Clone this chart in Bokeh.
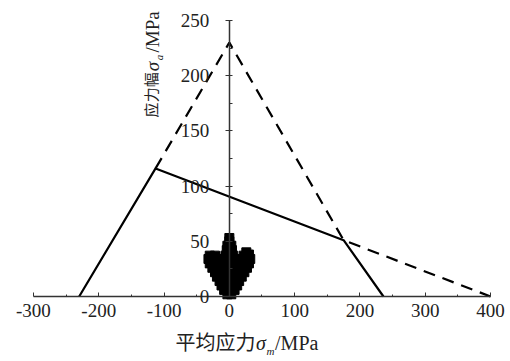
from bokeh.plotting import figure
from bokeh.models import Range1d, Label, FixedTicker
from bokeh.embed import file_html
from bokeh.resources import INLINE

# Goodman-type limit lines
solid_x = [-230, -113, 175, 236]
solid_y = [0, 116, 51, 0]
dash_x = [-113, 0, 175, 400]
dash_y = [116, 230, 51, 0]

# test points clustered near zero mean stress
pts_x = [-3, 3,
         -8, 0, 8,
         -12, -4, 4, 12,
         -15, -7, 0, 7, 15,
         -19, -10, -2, 5, 13, 19,
         -22, -14, -6, 2, 10, 18, 23,
         -26, -18, -10, -2, 6, 14, 22, 27,
         -30, -21, -12, -4, 4, 12, 21, 30,
         -32, -24, -14, -5, 5, 15, 25, 32,
         -30, -22, -6, 0, 6, 22, 30,
         -4, 4, 26,
         -3, 3,
         0, 0]
pts_y = [2, 2,
         6, 6, 6,
         10, 10, 10, 10,
         14, 14, 14, 14, 14,
         18, 18, 18, 18, 18, 18,
         22, 22, 22, 22, 22, 22, 22,
         26, 26, 26, 26, 26, 26, 26, 26,
         30, 30, 30, 30, 30, 30, 30, 30,
         34, 34, 34, 34, 34, 34, 34, 34,
         37, 37, 37, 37, 37, 37, 38,
         42, 42, 40,
         46, 46,
         50, 53]

x_ticks = [-300, -200, -100, 0, 100, 200, 300, 400]
x_tick_labels = ["-300", "-200", "-100", "0", "100", "200", "300", "400"]
y_ticks = [0, 50, 100, 150, 200, 250]

SERIF = "Liberation Serif"
CJK = "Liberation Serif, Noto Sans CJK SC"
TXT = "#222222"

p = figure(width=510, height=357, output_backend="svg", toolbar_location=None,
           x_range=Range1d(-350.5, 430.6), y_range=Range1d(-55.25, 268.1),
           min_border_left=0, min_border_right=0, min_border_top=0, min_border_bottom=0)
p.grid.visible = False
p.outline_line_color = None
p.background_fill_color = "white"

ax = p.xaxis[0]
ax.fixed_location = 0
ax.bounds = (-300, 400)
ax.ticker = FixedTicker(ticks=x_ticks, minor_ticks=[-250, -150, -50, 50, 150, 250, 350])
ax.major_label_overrides = dict(zip(x_ticks, x_tick_labels))
ax.axis_line_color = "#333333"
ax.axis_line_width = 1.5
ax.major_tick_in = 4
ax.major_tick_out = 0
ax.minor_tick_in = 2
ax.minor_tick_out = 0
ax.major_tick_line_color = "#333333"
ax.minor_tick_line_color = "#333333"
ax.major_label_text_font = SERIF
ax.major_label_text_font_size = "19px"
ax.major_label_text_color = TXT
ax.major_label_standoff = 7

ay = p.yaxis[0]
ay.fixed_location = 0
ay.bounds = (0, 250)
ay.ticker = FixedTicker(ticks=y_ticks, minor_ticks=[25, 75, 125, 175, 225])
ay.axis_line_color = "#333333"
ay.axis_line_width = 1.5
ay.major_tick_in = 3
ay.major_tick_out = 4
ay.minor_tick_in = 3
ay.minor_tick_out = 0
ay.major_tick_line_color = "#333333"
ay.minor_tick_line_color = "#333333"
ay.major_label_text_font = SERIF
ay.major_label_text_font_size = "19px"
ay.major_label_text_color = TXT
ay.major_label_standoff = 16

p.line(solid_x, solid_y, line_color="black", line_width=2.2)
p.line(dash_x, dash_y, line_color="black", line_width=2.2, line_dash="12 8")
p.scatter(pts_x, pts_y, marker="square", size=9, color="black")

# x title
p.add_layout(Label(x=40, y=-42.5, text="平均应力", text_align="right", text_baseline="middle",
                   text_font=CJK, text_font_size="20px", text_color=TXT))
p.add_layout(Label(x=41, y=-42.5, text="σ", text_align="left", text_baseline="middle",
                   text_font=SERIF, text_font_style="italic", text_font_size="20px", text_color=TXT))
p.add_layout(Label(x=57, y=-49, text="m", text_align="left", text_baseline="middle",
                   text_font=SERIF, text_font_style="italic", text_font_size="11px", text_color=TXT))
p.add_layout(Label(x=70, y=-42.5, text="/MPa", text_align="left", text_baseline="middle",
                   text_font=SERIF, text_font_size="20px", text_color=TXT))
# y title (rotated)
p.add_layout(Label(x=-118, y=203, text="应力幅", angle=1.5708, text_align="right", text_baseline="middle",
                   text_font=CJK, text_font_size="15px", text_color=TXT))
p.add_layout(Label(x=-118, y=204, text="σ", angle=1.5708, text_align="left", text_baseline="middle",
                   text_font=SERIF, text_font_style="italic", text_font_size="19px", text_color=TXT))
p.add_layout(Label(x=-108, y=214, text="a", angle=1.5708, text_align="left", text_baseline="middle",
                   text_font=SERIF, text_font_style="italic", text_font_size="11px", text_color=TXT))
p.add_layout(Label(x=-118, y=221, text="/MPa", angle=1.5708, text_align="left", text_baseline="middle",
                   text_font=SERIF, text_font_size="19px", text_color=TXT))

open("out.html", "w").write(file_html(p, INLINE))
